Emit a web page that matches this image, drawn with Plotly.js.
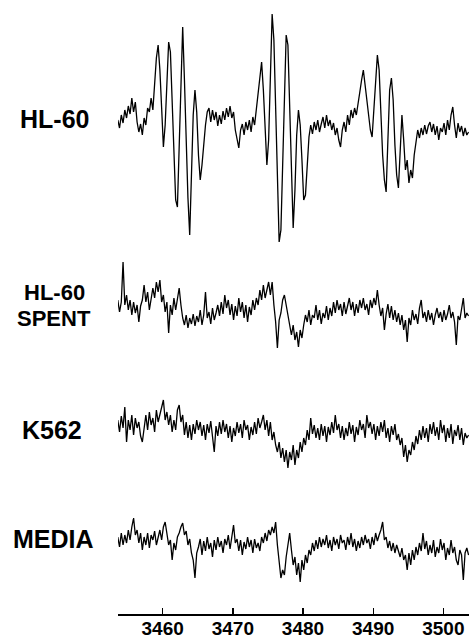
<!DOCTYPE html>
<html>
<head>
<meta charset="utf-8">
<script src="https://cdn.plot.ly/plotly-3.0.1.min.js"></script>
<style>html,body{margin:0;padding:0;background:#fff;}</style>
</head>
<body>
<div id="chart" style="width:469px;height:638px;"></div>
<script>
// Magnetic field sweep (gauss): first point and spacing between points
const FIELD_START = 3453.6;
const FIELD_STEP = 0.25;
const TICK_VALUES = [3460, 3470, 3480, 3490, 3500];
const TICK_LABELS = ["3460", "3470", "3480", "3490", "3500"];
const SAMPLE_LABELS = ["HL-60", "HL-60 SPENT", "K562", "MEDIA"];

// EPR signal intensity (arbitrary units)
const HL60 = [0,-8,5,-3,10,2,14,6,22,8,18,-2,-12,-4,-15,2,-5,12,8,22,
10,35,62,75,50,12,-27,-5,35,78,68,20,-40,-80,-87,-30,48,93,40,-25,
-78,-115,-55,5,30,8,-35,-60,-45,-20,-5,8,12,-2,10,0,8,-6,5,-4,
9,0,12,3,14,2,8,-10,-20,-28,-10,-4,-15,-2,-10,0,-12,3,-5,10,
25,45,58,30,-10,-45,-20,55,106,80,10,-70,-122,-110,-40,40,85,75,10,-70,
-108,-70,-15,10,-5,-40,-80,-75,-40,-17,-5,-14,-2,-10,0,-12,-4,3,-8,5,
-6,0,-10,-3,-15,-8,-20,-27,-10,-2,-12,5,-5,10,2,12,5,15,28,40,
50,35,20,8,-10,-17,10,45,65,50,5,-35,-60,-72,-20,30,42,20,-25,-55,
-68,-30,5,-20,-50,-40,-63,-50,-58,-35,-23,-10,-18,-8,-15,-5,-14,-6,-2,-12,
-4,-15,-6,-20,-8,-12,-3,-15,0,-10,5,13,-5,-18,-3,-12,-6,-16,-8,-15,-12];

const HL60_SPENT = [10,-2,8,48,5,15,0,10,-5,8,-3,5,-12,4,10,25,8,18,0,10,
22,12,28,18,30,8,15,-2,8,-23,5,-5,12,0,10,22,5,-8,-15,-5,
-18,-8,-14,-4,-16,-6,-12,0,-15,-5,18,-8,-2,-14,2,-10,-3,5,-6,8,
-4,15,2,10,-5,6,-10,4,-6,12,-2,8,-8,5,-12,3,-5,10,0,12,
5,20,10,25,12,22,28,15,28,5,-12,-38,-10,-3,10,15,5,-8,-18,-25,
-15,-30,-22,-37,-20,-28,-15,-5,-12,0,-15,-5,-8,5,-10,0,-14,-3,-8,4,
-10,2,-6,8,-3,10,0,6,-6,8,-4,5,12,0,8,-6,6,-3,10,2,
12,0,6,-5,10,2,12,5,20,5,-6,2,-20,-4,6,-8,4,-10,0,-12,
-3,-15,-5,-20,-10,-32,-8,-15,0,-10,-4,-14,2,10,-8,-2,-12,0,-10,-3,
-15,-5,2,-8,-2,-12,0,-10,-4,5,-8,-2,-12,-35,-6,-10,0,12,-8,-3,-6];

const K562 = [10,-2,14,2,23,-12,10,0,15,-5,12,2,8,-6,-12,5,15,0,18,5,
12,-2,20,8,15,22,30,10,18,5,15,-2,10,0,20,25,8,15,-5,8,
-8,5,-10,6,-4,10,0,8,-6,5,-10,6,-3,9,-5,-22,4,-6,8,-4,
10,-2,6,-8,4,-12,2,-6,8,-3,6,-8,10,0,5,-10,3,-5,8,-4,
12,2,8,15,0,10,-6,8,-10,-2,-15,-22,-12,-28,-18,-32,-20,-38,-22,-30,
-15,-35,-20,-28,-12,-22,-8,-15,0,-10,12,-4,5,-8,2,-10,6,-6,4,-12,
3,-5,8,-3,15,0,6,-8,4,-10,2,-6,8,-4,5,-12,3,-5,10,0,
6,-8,15,2,8,-4,6,-10,4,-6,8,-2,10,-8,2,-12,4,-5,6,-10,
-4,-15,-8,-27,-15,-32,-20,-25,-12,-20,-6,-14,0,-10,4,-8,2,-12,6,-4,
8,-6,3,-10,10,-3,5,-12,2,-8,6,-14,0,-6,5,-10,2,-15,-3,-8,-5];

const MEDIA = [8,-2,12,0,10,2,15,5,18,27,10,15,2,12,-5,8,0,12,-3,10,
5,14,0,8,15,5,18,23,12,0,5,-15,2,-5,8,12,18,22,10,14,
0,6,-8,-15,-33,-8,-2,6,-10,4,-6,8,-4,2,-12,5,-5,8,-2,4,
-8,6,0,10,-4,8,20,2,6,-6,5,-10,3,-4,8,-2,5,-8,6,-3,
2,-6,8,2,12,4,15,10,18,12,23,0,-20,-33,-25,-30,-12,0,12,-5,
-20,-12,-30,-18,-37,-15,-25,-10,-18,-5,-10,2,-6,5,-4,8,-2,6,0,10,
-3,5,-6,8,0,6,-4,10,2,5,-5,8,0,12,-2,6,-6,4,-3,8,
0,10,2,6,-4,8,0,12,4,10,15,23,5,8,-3,4,-6,2,-8,0,
-5,-12,-3,-15,-10,-25,-8,-20,-5,-15,-2,-10,2,-6,12,-4,4,-10,0,-8,
5,-12,-2,-8,6,-5,2,-15,-3,-10,5,-8,-2,-15,-20,-5,-10,-35,-8,-3,-10];

const SERIES = [HL60, HL60_SPENT, K562, MEDIA];

// layout geometry (pixels from the top of the 614px-high plot area)
const PLOT_H = 614;
const PANELS = [
  {top: 0,   bottom: 250, range: [-130, 120]},
  {top: 250, bottom: 370, range: [-60, 60]},
  {top: 380, bottom: 480, range: [-50, 50]},
  {top: 490, bottom: 600, range: [-55, 55]}
];

const traces = SERIES.map((ys, k) => ({
  type: 'scatter', mode: 'lines',
  x0: FIELD_START, dx: FIELD_STEP, y: ys,
  xaxis: 'x', yaxis: k === 0 ? 'y' : 'y' + (k + 1),
  line: {color: '#000', width: 1.3},
  hoverinfo: 'skip', showlegend: false,
  name: SAMPLE_LABELS[k]
}));

const layout = {
  width: 469, height: 638,
  margin: {l: 118, r: 0, t: 0, b: 24},
  paper_bgcolor: '#fff', plot_bgcolor: '#fff',
  showlegend: false,
  xaxis: {
    range: [3453.63, 3503.66],
    anchor: 'free', position: 0,
    tickvals: TICK_VALUES, ticktext: TICK_LABELS,
    ticks: 'inside', ticklen: 6, tickwidth: 1.3, tickcolor: '#000',
    ticklabelstandoff: -3,
    showline: true, linecolor: '#000', linewidth: 1.5,
    showgrid: false, zeroline: false,
    tickfont: {family: 'Liberation Sans, Arial, sans-serif', size: 19, color: '#000', weight: 'bold'}
  },
  annotations: []
};

PANELS.forEach((p, k) => {
  const key = k === 0 ? 'yaxis' : 'yaxis' + (k + 1);
  layout[key] = {
    domain: [1 - p.bottom / PLOT_H, 1 - p.top / PLOT_H],
    range: p.range, visible: false, fixedrange: true, anchor: 'x'
  };
});

const LABEL_POS = [
  {text: 'HL-60', x: 54, y: 119, size: 25},
  {text: 'HL-60', x: 54, y: 292, size: 22},
  {text: 'SPENT', x: 54, y: 318, size: 22},
  {text: 'K562', x: 52, y: 430, size: 25},
  {text: 'MEDIA', x: 53, y: 539, size: 25}
];
LABEL_POS.forEach(l => {
  layout.annotations.push({
    text: l.text, xref: 'paper', yref: 'paper',
    x: (l.x - 118) / 351, y: 1 - l.y / PLOT_H,
    xanchor: 'center', yanchor: 'middle', showarrow: false,
    font: {family: 'Liberation Sans, Arial, sans-serif', size: l.size, color: '#000', weight: 'bold'}
  });
});

Plotly.newPlot('chart', traces, layout, {staticPlot: true, displayModeBar: false});
</script>
</body>
</html>
